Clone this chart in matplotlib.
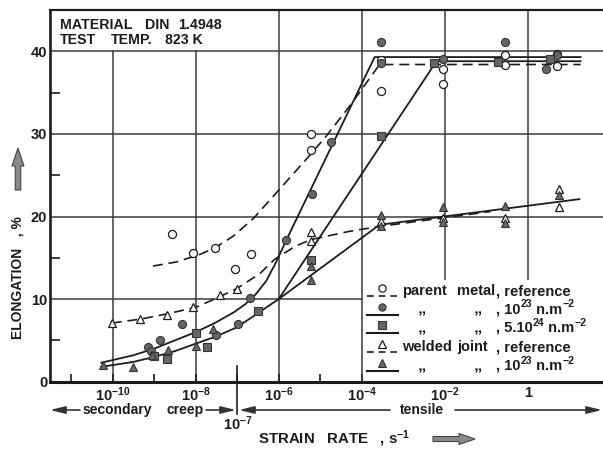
import numpy as np
import matplotlib
matplotlib.use('Agg')
import matplotlib.pyplot as plt
import matplotlib.transforms as mtransforms
from matplotlib.patches import Rectangle, FancyArrow
from matplotlib.ticker import FixedLocator, FixedFormatter, NullLocator

plt.rcParams['font.family'] = ['Liberation Sans', 'DejaVu Sans']
plt.rcParams['mathtext.fontset'] = 'custom'
plt.rcParams['mathtext.rm'] = 'Liberation Sans:bold'
plt.rcParams['mathtext.it'] = 'Liberation Sans:bold:italic'
plt.rcParams['mathtext.bf'] = 'Liberation Sans:bold'
plt.rcParams['mathtext.default'] = 'rm'

# ---------------- data (strain rate given as log10 exponent, s^-1; elongation in %) -------------
parent_ref_lograte = [-8.58, -8.06, -7.54, -7.06, -6.66, -5.23, -5.23, -3.53, -3.53, -2.05, -2.05, -0.55, -0.55, 0.71, 0.71]
parent_ref_elong = [17.9, 15.6, 16.2, 13.6, 15.4, 30.0, 28.1, 35.2, 39.0, 37.9, 36.0, 39.5, 38.3, 39.7, 38.2]

parent_e23_lograte = [-9.14, -9.08, -8.86, -8.34, -7.50, -6.98, -6.68, -5.82, -5.19, -4.75, -3.53, -3.53, -2.05, -0.55, 0.43, 0.71]
parent_e23_elong = [4.2, 3.7, 5.1, 7.0, 5.6, 7.0, 10.1, 17.1, 22.7, 29.0, 41.1, 38.6, 39.1, 41.1, 37.8, 39.6]

parent_e24_lograte = [-9.01, -8.70, -8.00, -7.73, -6.50, -5.23, -3.53, -2.25, -0.73, 0.53]
parent_e24_elong = [3.1, 2.7, 5.9, 4.2, 8.6, 14.75, 29.7, 38.6, 38.7, 39.1]

weld_ref_lograte = [-10.02, -9.34, -8.69, -8.06, -7.42, -7.00, -5.23, -5.23, -3.53, -2.05, -0.55, 0.75, 0.75]
weld_ref_elong = [7.1, 7.6, 8.1, 9.1, 10.5, 11.2, 18.1, 17.0, 19.4, 19.8, 19.8, 23.3, 21.1]

weld_e23_lograte = [-10.23, -9.50, -9.06, -8.66, -7.98, -7.58, -5.23, -5.23, -3.53, -3.53, -2.05, -2.05, -0.55, -0.55, 0.75]
weld_e23_elong = [2.0, 1.8, 3.2, 3.8, 4.3, 6.4, 14.0, 12.3, 20.2, 18.8, 21.2, 19.3, 21.3, 19.2, 22.6]

# hand-drawn trend curves
parent_ref_curve_lograte = [-9.03, -8.46, -7.90, -7.54, -7.10, -6.60, -6.14, -5.34, -4.86, -4.30, -3.57, 1.27]
parent_ref_curve_elong = [14.0, 14.5, 15.4, 16.2, 17.6, 19.8, 22.4, 26.9, 29.7, 33.3, 38.4, 38.4]

parent_e23_curve_lograte = [-10.27, -9.5, -9.0, -8.5, -8.0, -7.54, -7.08, -6.80, -6.55, -6.30, -6.06, -5.82, -3.69, 1.27]
parent_e23_curve_elong = [2.3, 3.2, 4.0, 5.0, 6.0, 7.1, 8.4, 9.4, 10.6, 12.2, 14.5, 17.1, 39.3, 39.3]

low_curve_lograte = [-10.27, -9.5, -9.0, -8.5, -8.0, -7.5, -7.0, -6.5, -6.0]
low_curve_elong = [1.8, 2.4, 3.0, 3.7, 4.6, 5.5, 6.6, 8.3, 10.0]

parent_e24_curve_lograte = [-6.0, -2.2, 1.27]
parent_e24_curve_elong = [10.0, 38.8, 38.8]

weld_e23_curve_lograte = [-6.0, -3.57, 1.24]
weld_e23_curve_elong = [10.0, 19.0, 22.1]

weld_ref_curve_lograte = [-10.02, -9.3, -8.7, -8.0, -7.5, -7.0, -6.45, -6.1, -5.6, -5.23, -4.3, -3.57, -0.9]
weld_ref_curve_elong = [7.1, 7.6, 8.2, 9.0, 10.1, 11.3, 13.1, 14.8, 16.4, 17.2, 18.2, 18.8, 20.6]

y_ticks = [0, 10, 20, 30, 40]
y_minor = [5, 15, 25, 35]
x_decades = list(range(-11, 2))
x_label_decades = [-10, -8, -6, -4, -2, 0]

legend_symbols = ['o', 'o', 's', '^', '^']
legend_filled = [False, True, True, False, True]
legend_dashed = [True, False, False, True, False]
legend_col1 = ['parent', '\u201e', '\u201e', 'welded', '\u201e']
legend_col2 = ['metal', '\u201e', '\u201e', 'joint', '\u201e']
# (text, is_superscript) pieces
legend_col3 = [
    [(', reference', False)],
    [(', 10', False), ('23', True), (' n.m', False), ('\u22122', True)],
    [(', 5.10', False), ('24', True), (' n.m', False), ('\u22122', True)],
    [(', reference', False)],
    [(', 10', False), ('23', True), (' n.m', False), ('\u22122', True)],
]

INK = '#1c1c1c'
GRID = '#3c3c3c'
FILL = '#666666'

W, H = 603, 450
fig = plt.figure(figsize=(W / 100, H / 100), dpi=100)
fig.patch.set_facecolor('white')
AX_L, AX_R, AX_T, AX_B = 50.0, 603.0, 10.0, 381.7
ax = fig.add_axes([AX_L / W, 1 - AX_B / H, (AX_R - AX_L) / W, (AX_B - AX_T) / H])
ax.set_xscale('log')
ax.set_xlim(10 ** -11.507, 10 ** 1.81)
ax.set_ylim(0, 45)
renderer = fig.canvas.get_renderer()


def px2ax(px, py):
    return ((px - AX_L) / (AX_R - AX_L), (AX_B - py) / (AX_B - AX_T))


def P(v):
    return 10.0 ** np.asarray(v, dtype=float)


def rich_text(x_px, y_px, pieces, size, sup_scale=0.72, sup_raise=5.5):
    x = x_px
    for s, sup in pieces:
        fs = size * sup_scale if sup else size
        yy = y_px - (sup_raise if sup else 0)
        t = fig.text(x / W, 1 - yy / H, s, fontsize=fs, fontweight='bold', color=INK, va='center', ha='left', zorder=6)
        x += t.get_window_extent(renderer).width


# ---------------- grid ----------------
for e in x_label_decades:
    ytop = 40 if e < -6 else 45
    ax.plot([10.0 ** e] * 2, [0, ytop], color=GRID, lw=1.1, zorder=2.2 if e == -4 else 1)
for yv in y_ticks[1:]:
    ax.axhline(yv, color=GRID, lw=1.1, zorder=1)

# legend box (white) in lower right
x0, y1 = px2ax(363, 280)
ax.add_patch(Rectangle((x0, 0), 1 - x0, y1, transform=ax.transAxes, fc='white', ec='none', zorder=2))

# ---------------- ticks ----------------
ax.xaxis.set_major_locator(FixedLocator(P(x_decades)))
xl = []
for e in x_decades:
    if e in x_label_decades:
        xl.append('1' if e == 0 else r'$10^{%d}$' % e)
    else:
        xl.append('')
ax.xaxis.set_major_formatter(FixedFormatter(xl))
ax.xaxis.set_minor_locator(NullLocator())
ax.tick_params(axis='x', which='major', direction='in', length=6, width=1.2, pad=3, labelsize=10.5, colors=INK)
for lbl in ax.get_xticklabels():
    lbl.set_fontweight('bold')

ax.yaxis.set_major_locator(FixedLocator(y_ticks))
ax.yaxis.set_major_formatter(FixedFormatter([str(v) for v in y_ticks]))
ax.yaxis.set_minor_locator(FixedLocator(y_minor))
ax.tick_params(axis='y', which='major', length=0, pad=2, labelsize=10.5, colors=INK)
ax.tick_params(axis='y', which='minor', direction='in', length=7.5, width=1.2, colors=INK)
for lbl in ax.get_yticklabels():
    lbl.set_fontweight('bold')

ax.spines['right'].set_visible(False)
ax.spines['left'].set_linewidth(1.9)
ax.spines['bottom'].set_linewidth(2.2)
ax.spines['top'].set_linewidth(1.6)
for s in ax.spines.values():
    s.set_color(INK)

# ---------------- curves ----------------
DASH = (6, 3.5)
ax.plot(P(parent_ref_curve_lograte), parent_ref_curve_elong, color=INK, lw=1.2, dashes=DASH, zorder=3)
ax.plot(P(weld_ref_curve_lograte), weld_ref_curve_elong, color=INK, lw=1.2, dashes=DASH, zorder=3)
ax.plot(P(parent_e23_curve_lograte), parent_e23_curve_elong, color=INK, lw=1.3, zorder=3)
ax.plot(P(low_curve_lograte), low_curve_elong, color=INK, lw=1.3, zorder=3)
ax.plot(P(parent_e24_curve_lograte), parent_e24_curve_elong, color=INK, lw=1.3, zorder=3)
ax.plot(P(weld_e23_curve_lograte), weld_e23_curve_elong, color=INK, lw=1.3, zorder=3)

# ---------------- markers ----------------
MS = 5.8
kw_open = dict(ls='none', mfc='white', mec=INK, mew=0.9, zorder=4)
kw_fill = dict(ls='none', mfc=FILL, mec='#333333', mew=0.8, zorder=4)
ax.plot(P(parent_ref_lograte), parent_ref_elong, marker='o', ms=MS, **kw_open)
ax.plot(P(parent_e23_lograte), parent_e23_elong, marker='o', ms=MS, **kw_fill)
ax.plot(P(parent_e24_lograte), parent_e24_elong, marker='s', ms=MS - 0.3, **kw_fill)
ax.plot(P(weld_ref_lograte), weld_ref_elong, marker='^', ms=MS, **kw_open)
ax.plot(P(weld_e23_lograte), weld_e23_elong, marker='^', ms=MS, **kw_fill)

# ---------------- legend (drawn manually) ----------------
text_py = [291, 309.5, 328, 347, 366]
LFS = 10.5
for i in range(5):
    mpy = text_py[i] - 3
    lpy = mpy + 8
    lx0, ly = px2ax(367, lpy)
    lx1, _ = px2ax(398, lpy)
    if legend_dashed[i]:
        ax.plot([lx0, lx1], [ly, ly], transform=ax.transAxes, color=INK, lw=1.2, dashes=(4, 3), clip_on=False, zorder=5)
    else:
        ax.plot([lx0, lx1], [ly, ly], transform=ax.transAxes, color=INK, lw=1.5, clip_on=False, zorder=5)
    mx, my = px2ax(381.7, mpy)
    kw = dict(kw_fill if legend_filled[i] else kw_open)
    kw['zorder'] = 6
    ax.plot([mx], [my], marker=legend_symbols[i], ms=5.2, transform=ax.transAxes, clip_on=False, **kw)
    ty = px2ax(0, text_py[i])[1]
    if legend_col1[i] == '\u201e':
        ax.text(px2ax(422, 0)[0], ty, legend_col1[i], transform=ax.transAxes, ha='center', va='center',
                fontsize=12, fontweight='bold', color=INK, zorder=6)
        ax.text(px2ax(478, 0)[0], ty, legend_col2[i], transform=ax.transAxes, ha='center', va='center',
                fontsize=12, fontweight='bold', color=INK, zorder=6)
    else:
        ax.text(px2ax(402, 0)[0], ty, legend_col1[i], transform=ax.transAxes, ha='left', va='center',
                fontsize=LFS, fontweight='bold', color=INK, zorder=6)
        ax.text(px2ax(457, 0)[0], ty, legend_col2[i], transform=ax.transAxes, ha='left', va='center',
                fontsize=LFS, fontweight='bold', color=INK, zorder=6)
    rich_text(496, text_py[i], legend_col3[i], LFS)

# ---------------- header text ----------------
hdr = dict(fontsize=10.2, fontweight='bold', color=INK, va='center', ha='left')
for word, px, py in [('MATERIAL', 60, 25), ('DIN', 145, 25), ('1.4948', 178, 25),
                     ('TEST', 60, 40.5), ('TEMP.', 111, 40.5), ('823 K', 165, 40.5)]:
    fig.text(px / W, 1 - py / H, word, **hdr)

# ---------------- axis annotations below ----------------
def fp(px, py):
    return (px, H - py)

arr_kw = dict(arrowstyle='-|>,head_length=0.9,head_width=0.22', color='#333333', lw=1.2, shrinkA=0, shrinkB=0)
row_py = 410
ax.annotate('', xy=fp(50, row_py), xytext=fp(80, row_py), xycoords='figure pixels', textcoords='figure pixels', arrowprops=arr_kw, annotation_clip=False)
fig.text(83 / W, 1 - row_py / H, 'secondary', fontsize=10, fontweight='bold', color=INK, va='center', ha='left')
fig.text(166 / W, 1 - row_py / H, 'creep', fontsize=10, fontweight='bold', color=INK, va='center', ha='left')
ax.annotate('', xy=fp(236, row_py), xytext=fp(206, row_py), xycoords='figure pixels', textcoords='figure pixels', arrowprops=arr_kw, annotation_clip=False)
ax.annotate('', xy=fp(239, row_py), xytext=fp(390, row_py), xycoords='figure pixels', textcoords='figure pixels', arrowprops=arr_kw, annotation_clip=False)
fig.text(422 / W, 1 - row_py / H, 'tensile', fontsize=10, fontweight='bold', color=INK, va='center', ha='center')
ax.annotate('', xy=fp(602, row_py), xytext=fp(455, row_py), xycoords='figure pixels', textcoords='figure pixels', arrowprops=arr_kw, annotation_clip=False)

# 10^-7 boundary marker
bt = mtransforms.blended_transform_factory(ax.transData, ax.transAxes)
_, yA = px2ax(0, 366)
_, yB = px2ax(0, 414)
ax.plot([1e-7, 1e-7], [yA, yB], transform=bt, color=INK, lw=1.2, clip_on=False, zorder=5)
fig.text(238 / W, 1 - 424 / H, r'$10^{-7}$', fontsize=10.5, color=INK, va='center', ha='center')

# axis titles
fig.text(258 / W, 1 - 439 / H, r'STRAIN   RATE   , s$^{-1}$', fontsize=10.8, fontweight='bold', color=INK, va='center', ha='left')
fig.text(18 / W, 1 - 278 / H, 'ELONGATION   , %', fontsize=10, fontweight='bold', color=INK, va='center', ha='center', rotation=90)

# thick gray arrows
fig.add_artist(FancyArrow(433, H - 439, 42, 0, width=5, head_width=11, head_length=16, length_includes_head=True,
                          fc='#8a8a8a', ec='#444444', lw=0.8, transform=mtransforms.IdentityTransform()))
fig.add_artist(FancyArrow(18, H - 190, 0, 42, width=5.5, head_width=12, head_length=18, length_includes_head=True,
                          fc='#8a8a8a', ec='#444444', lw=0.8, transform=mtransforms.IdentityTransform()))

fig.savefig('out.png', dpi=100, facecolor='white')
